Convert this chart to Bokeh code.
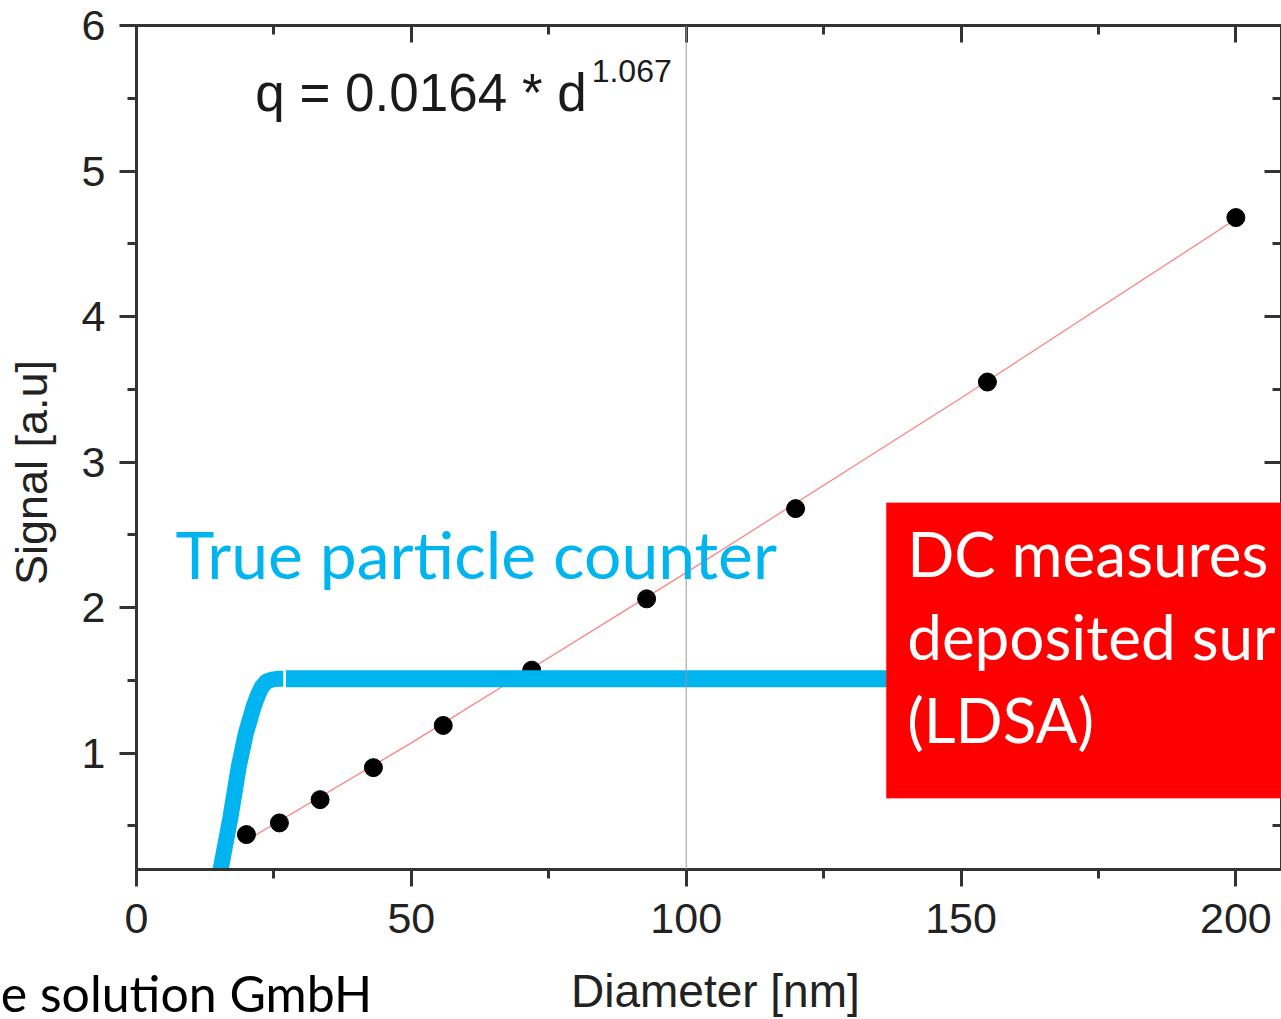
from bokeh.plotting import figure
from bokeh.models import (Range1d, SingleIntervalTicker, FixedTicker, LinearAxis, Span,
                          BoxAnnotation, Label, CustomJSTickFormatter)
from bokeh.embed import file_html
from bokeh.resources import INLINE

# measured points
diam = [20.0, 26.0, 33.4, 43.1, 55.8, 71.9, 92.8, 119.9, 154.8, 200.0]
signal = [0.44, 0.52, 0.68, 0.90, 1.19, 1.57, 2.06, 2.68, 3.55, 4.68]

# fit line
fit_d = [20, 50, 100, 150, 200]
fit_q = [0.40, 1.07, 2.24, 3.44, 4.67]

# "true particle counter" response curve
curve_d = [15.0, 15.3, 17.1, 18.6, 19.9, 21.3, 22.1, 22.8, 23.6, 24.6, 25.6, 26.7]
curve_s = [0.14, 0.20, 0.56, 0.906, 1.137, 1.318, 1.40, 1.455, 1.49, 1.505, 1.51, 1.51]
flat_d = [27.2, 137.0]
flat_s = [1.51, 1.51]

# DC box extent
box_left, box_right, box_bottom, box_top = 136.4, 215.0, 0.69, 2.72

# credit text anchor (centre, in diameter units)
credit_at = [9.0]

AX = "#333333"
FONT = "Liberation Sans"
CAL = "Lato"

p = figure(width=1281, height=1019, x_range=Range1d(0, 208.3), y_range=Range1d(0.2, 6.0),
           output_backend="svg", toolbar_location=None,
           min_border_left=136, min_border_top=25, min_border_bottom=149, min_border_right=0,
           y_axis_label="Signal [a.u]\u00a0\u00a0\u00a0\u00a0")
p.outline_line_color = None
p.grid.visible = False
p.background_fill_color = "white"
p.border_fill_color = "white"

p.xaxis.ticker = SingleIntervalTicker(interval=50, num_minor_ticks=2)
p.yaxis.ticker = SingleIntervalTicker(interval=1, num_minor_ticks=2)

for ax in p.xaxis + p.yaxis:
    ax.axis_line_color = AX
    ax.axis_line_width = 3
    ax.major_tick_line_color = AX
    ax.major_tick_line_width = 3
    ax.minor_tick_line_color = AX
    ax.minor_tick_line_width = 3
    ax.major_tick_in = 0
    ax.minor_tick_in = 0
    ax.major_tick_out = 17
    ax.minor_tick_out = 9
    ax.major_label_text_font = FONT
    ax.major_label_text_font_size = "43px"
    ax.major_label_text_color = "#222222"
    ax.axis_label_text_font = FONT
    ax.axis_label_text_font_size = "45px"
    ax.axis_label_text_font_style = "normal"
    ax.axis_label_text_color = "#222222"
p.xaxis.major_label_standoff = 17
p.yaxis.major_label_standoff = 14
p.yaxis.axis_label_standoff = 22

# second bottom axis: carries the credit text and the axis title on one band
low = LinearAxis(ticker=FixedTicker(ticks=credit_at, minor_ticks=[]),
                 formatter=CustomJSTickFormatter(code="return 'e solution GmbH'"),
                 axis_label="\u00a0Diameter [nm]")
low.axis_line_color = None
low.major_tick_line_color = None
low.minor_tick_line_color = None
low.major_tick_out = 0
low.major_tick_in = 0
low.minor_tick_out = 0
low.minor_tick_in = 0
low.major_label_standoff = 27
low.major_label_text_font = CAL
low.major_label_text_font_size = "50px"
low.major_label_text_color = "black"
low.axis_label_text_font = FONT
low.axis_label_text_font_size = "46px"
low.axis_label_text_font_style = "normal"
low.axis_label_text_color = "#222222"
low.axis_label_standoff = -61
p.add_layout(low, "below")

blank = CustomJSTickFormatter(code="return ''")
top = LinearAxis(ticker=SingleIntervalTicker(interval=50, num_minor_ticks=2), formatter=blank)
right = LinearAxis(ticker=SingleIntervalTicker(interval=1, num_minor_ticks=2), formatter=blank)
for ax in (top, right):
    ax.axis_line_color = AX
    ax.axis_line_width = 3
    ax.major_tick_line_color = AX
    ax.major_tick_line_width = 3
    ax.minor_tick_line_color = AX
    ax.minor_tick_line_width = 3
    ax.major_tick_in = 17
    ax.minor_tick_in = 9
    ax.major_tick_out = 0
    ax.minor_tick_out = 0
    ax.major_label_standoff = 0
p.add_layout(top, "above")
p.add_layout(right, "right")

p.add_layout(Span(location=100, dimension="height", line_color="#9a9a9a", line_width=1))

p.line(fit_d, fit_q, line_color="#ff3030", line_width=1.3, line_alpha=0.6)
p.scatter(diam, signal, size=18, fill_color="black", line_color="black")

p.line(curve_d, curve_s, line_color="#00b4f0", line_width=16, line_cap="butt", line_join="round")
p.line(flat_d, flat_s, line_color="#00b4f0", line_width=17, line_cap="butt")

p.add_layout(BoxAnnotation(left=box_left, right=box_right, bottom=box_bottom, top=box_top,
                           fill_color="#ff0000", fill_alpha=1.0, line_color="#ff4040", line_width=1))

p.add_layout(Label(x=21.6, y=5.54, text="q = 0.0164 * d", text_font=FONT,
                   text_font_size="53px", text_color="#1a1a1a", text_baseline="alphabetic"))
p.add_layout(Label(x=82.8, y=5.684, text="1.067", text_font=FONT,
                   text_font_size="32px", text_color="#1a1a1a", text_baseline="alphabetic"))

p.add_layout(Label(x=7.1, y=2.374, text="True particle counter", text_font=CAL,
                   text_font_size="66px", text_color="#00b4f0", text_baseline="alphabetic"))

for yy, t in zip([2.374, 1.804, 1.234], ["DC measures", "deposited sur", "(LDSA)"]):
    p.add_layout(Label(x=140.2, y=yy, text=t, text_font=CAL, text_font_size="62px",
                       text_color="white", text_baseline="alphabetic"))

open("out.html", "w").write(file_html(p, INLINE))
